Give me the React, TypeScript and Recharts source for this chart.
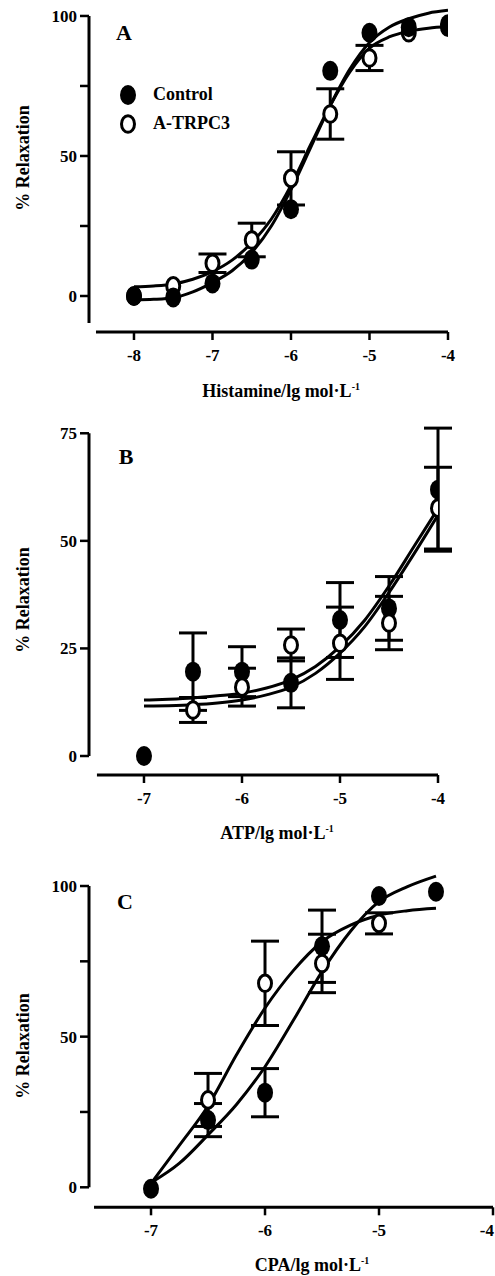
import React from 'react'
import { ComposedChart, Line, Scatter, XAxis, YAxis, ErrorBar, ReferenceLine, Legend } from 'recharts'

const serif = '"Liberation Serif", "Times New Roman", Times, serif'

const controlName = 'Control'
const trpcName = 'A-TRPC3'

// A: histamine
const histX = [-8, -7.5, -7, -6.5, -6, -5.5, -5, -4.5, -4]
const histControl = [0, -0.5, 4.5, 13, 31, 80.4, 94, 96, 97]
const histControlErr = [0, 0, 0, 0, 0, 0, 0, 0, 0]
const histTrpc = [0, 3.6, 11.7, 20, 42, 65, 85, 94, 96]
const histTrpcErr = [0, 0, 3.3, 6, 9.5, 9, 4.5, 0, 0]
const histFitX = [-8, -7.75, -7.5, -7.25, -7, -6.75, -6.5, -6.25, -6, -5.75, -5.5, -5.25, -5, -4.75, -4.5, -4.25, -4]
const histControlFit = [-1.4, -1.2, -0.6, 1.5, 4.8, 9, 15.5, 25, 38, 53, 68, 81, 90.5, 96, 99, 101, 102]
const histTrpcFit = [3.3, 3.6, 4.3, 6, 8.7, 12.8, 19, 27.5, 39.5, 54, 68, 80, 88.5, 92.5, 94.5, 95.6, 96.2]

// B: ATP
const atpControlX = [-7, -6.5, -6, -5.5, -5, -4.5, -4]
const atpControl = [0, 19.6, 19.6, 17, 31.6, 34.3, 61.9]
const atpControlErr = [0, 9, 5.8, 5.8, 8.7, 7.4, 14.3]
const atpTrpcX = [-6.5, -6, -5.5, -5, -4.5, -4]
const atpTrpc = [10.7, 16, 25.8, 26.2, 30.9, 57.6]
const atpTrpcErr = [2.9, 4.4, 3.7, 8.4, 6.2, 9.5]
const atpFitX = [-7, -6.75, -6.5, -6.25, -6, -5.75, -5.5, -5.25, -5, -4.75, -4.5, -4.25, -4]
const atpControlFit = [13, 13.2, 13.5, 14, 14.6, 15.8, 17.7, 20.8, 25.4, 31.5, 39.5, 48.5, 57.5]
const atpTrpcFit = [11.6, 11.7, 11.9, 12.3, 13, 14.2, 16, 19.2, 23.9, 30, 38, 46.8, 56]

// C: CPA
const cpaControlX = [-7, -6.5, -6, -5.5, -5, -4.5]
const cpaControl = [-0.5, 22.3, 31.4, 80, 96.7, 98.1]
const cpaControlErr = [0, 5.5, 8, 12, 0, 0]
const cpaTrpcX = [-6.5, -6, -5.5, -5]
const cpaTrpc = [29, 67.7, 74.3, 87.6]
const cpaTrpcErr = [8.8, 14, 9.7, 3.5]
const cpaFitX = [-7, -6.75, -6.5, -6.25, -6, -5.75, -5.5, -5.25, -5, -4.75, -4.5]
const cpaControlFit = [1.5, 8, 17.4, 27.5, 40, 55.5, 71.6, 85, 94.8, 99.8, 103.3]
const cpaTrpcFit = [1.3, 14, 27, 44, 59.5, 72, 81.5, 87, 90.3, 91.8, 92.6]

type Pt = { x: number; y: number; err: number }
const pts = (xs: number[], ys: number[], errs?: number[]): Pt[] =>
  xs.map((x, i) => ({ x, y: ys[i], err: errs ? errs[i] : 0 }))

const FilledDot = (p: any) => <ellipse cx={p.cx} cy={p.cy} rx={8} ry={10} fill="#000" />
const OpenDot = (p: any) => (
  <ellipse cx={p.cx} cy={p.cy} rx={6.5} ry={8.3} fill="#fff" stroke="#000" strokeWidth={3} />
)

const tickStyle = { fill: '#000', fontSize: 17, fontWeight: 'bold', fontFamily: serif }

// x tick label; the last one at the page edge is right-aligned so it stays on the page
const XTick = (props: any) => {
  const atEdge = props.x > 485
  return (
    <text
      x={atEdge ? Math.min(props.x + 2, 494) : props.x}
      y={props.y}
      dy="0.71em"
      textAnchor={atEdge ? 'end' : 'middle'}
      {...tickStyle}
    >
      {props.payload.value}
    </text>
  )
}

const LegendBox = (props: any) => {
  const items = (props.payload || [])
    .filter((p: any) => p.type !== 'none')
    .sort((a: any, b: any) => (a.value === controlName ? -1 : b.value === controlName ? 1 : 0))
  return (
    <div style={{ fontFamily: serif, fontWeight: 'bold', fontSize: 18 }}>
      {items.map((it: any) => (
        <div key={it.value} style={{ display: 'flex', alignItems: 'center', height: 29 }}>
          <svg width={20} height={24}>
            {it.value === controlName ? (
              <ellipse cx={10} cy={12} rx={8} ry={10} fill="#000" />
            ) : (
              <ellipse cx={10} cy={12} rx={6.5} ry={8.3} fill="#fff" stroke="#000" strokeWidth={3} />
            )}
          </svg>
          <span style={{ marginLeft: 15 }}>{it.value}</span>
        </div>
      ))}
    </div>
  )
}

type PanelProps = {
  top: number
  height: number
  margin: { top: number; right: number; bottom: number; left: number }
  xDomain: [number, number]
  yDomain: [number, number]
  xTicks: number[]
  yTicks: number[]
  yLabels: number[]
  xAxisStart: number
  yAxisSpan: [number, number]
  control: Pt[]
  trpc: Pt[]
  controlFit: Pt[]
  trpcFit: Pt[]
  trpcOnTop: boolean
  legend?: boolean
}

const Panel = (p: PanelProps) => {
  const controlSeries = (
    <Scatter key="c" name={controlName} data={p.control} dataKey="y" shape={FilledDot} isAnimationActive={false}>
      <ErrorBar dataKey="err" direction="y" width={14} strokeWidth={3} stroke="#000" />
    </Scatter>
  )
  const trpcSeries = (
    <Scatter key="t" name={trpcName} data={p.trpc} dataKey="y" shape={OpenDot} isAnimationActive={false}>
      <ErrorBar dataKey="err" direction="y" width={14} strokeWidth={3} stroke="#000" />
    </Scatter>
  )
  return (
    <div style={{ position: 'absolute', left: 0, top: p.top }}>
      <ComposedChart width={495} height={p.height} margin={p.margin}>
        <XAxis
          type="number"
          dataKey="x"
          domain={p.xDomain}
          ticks={p.xTicks}
          interval={0}
          allowDataOverflow
          axisLine={false}
          tickLine={{ stroke: '#000', strokeWidth: 2.5 }}
          tickSize={8}
          tickMargin={9}
          tick={XTick}
          height={30}
        />
        <YAxis
          type="number"
          dataKey="y"
          domain={p.yDomain}
          ticks={p.yTicks}
          interval={0}
          allowDataOverflow
          axisLine={false}
          tickLine={{ stroke: '#000', strokeWidth: 2.5 }}
          tickSize={9}
          tickMargin={3}
          tick={tickStyle}
          tickFormatter={(v: number) => (p.yLabels.includes(v) ? String(v) : '')}
          width={30}
        />
        <ReferenceLine
          segment={[{ x: p.xDomain[0], y: p.yAxisSpan[0] }, { x: p.xDomain[0], y: p.yAxisSpan[1] }]}
          stroke="#000"
          strokeWidth={3}
          ifOverflow="visible"
        />
        <ReferenceLine
          segment={[{ x: p.xAxisStart, y: p.yDomain[0] }, { x: p.xDomain[1], y: p.yDomain[0] }]}
          stroke="#000"
          strokeWidth={3}
          ifOverflow="visible"
        />
        <Line data={p.controlFit} dataKey="y" type="monotone" stroke="#000" strokeWidth={3} dot={false} activeDot={false} legendType="none" isAnimationActive={false} />
        <Line data={p.trpcFit} dataKey="y" type="monotone" stroke="#000" strokeWidth={3} dot={false} activeDot={false} legendType="none" isAnimationActive={false} />
        {p.trpcOnTop ? [controlSeries, trpcSeries] : [trpcSeries, controlSeries]}
        {p.legend && (
          <Legend
            layout="vertical"
            align="center"
            verticalAlign="middle"
            content={LegendBox}
            wrapperStyle={{ left: 118, top: 80, right: 'auto', bottom: 'auto', width: 'auto' }}
          />
        )}
      </ComposedChart>
    </div>
  )
}

const Title = ({ x, y, children, rotate }: { x: number; y: number; children: React.ReactNode; rotate?: boolean }) => (
  <div
    style={{
      position: 'absolute',
      left: x,
      top: y,
      transform: `translate(-50%, -50%)${rotate ? ' rotate(-90deg)' : ''}`,
      whiteSpace: 'nowrap',
      fontFamily: serif,
      fontWeight: 'bold',
      fontSize: 18,
      lineHeight: 1,
    }}
  >
    {children}
  </div>
)

const Letter = ({ x, y, t }: { x: number; y: number; t: string }) => (
  <div
    style={{
      position: 'absolute',
      left: x,
      top: y,
      transform: 'translate(-50%, -50%)',
      fontFamily: serif,
      fontWeight: 'bold',
      fontSize: 22,
      lineHeight: 1,
    }}
  >
    {t}
  </div>
)

const unit = (
  <>
    lg mol·L<span style={{ fontSize: '0.55em', position: 'relative', top: '-0.75em' }}>-1</span>
  </>
)

export default function App() {
  return (
    <div style={{ position: 'absolute', left: 0, top: 0, width: 495, height: 1276, overflow: 'hidden', background: '#fff' }}>
      <Panel
        top={0}
        height={420}
        margin={{ top: 0, right: 47, bottom: 58, left: 59 }}
        xDomain={[-8.573, -4]}
        yDomain={[-12.857, 105.7]}
        xTicks={[-8, -7, -6, -5, -4]}
        yTicks={[0, 25, 50, 75, 100]}
        yLabels={[0, 50, 100]}
        xAxisStart={-8.484}
        yAxisSpan={[-9.6, 100]}
        control={pts(histX, histControl, histControlErr)}
        trpc={pts(histX, histTrpc, histTrpcErr)}
        controlFit={pts(histFitX, histControlFit)}
        trpcFit={pts(histFitX, histTrpcFit)}
        trpcOnTop={false}
        legend
      />
      <Panel
        top={400}
        height={420}
        margin={{ top: 10, right: 57, bottom: 15, left: 59 }}
        xDomain={[-7.561, -4]}
        yDomain={[-4.415, 80.41]}
        xTicks={[-7, -6, -5, -4]}
        yTicks={[0, 25, 50, 75]}
        yLabels={[0, 25, 50, 75]}
        xAxisStart={-7.48}
        yAxisSpan={[0, 75]}
        control={pts(atpControlX, atpControl, atpControlErr)}
        trpc={pts(atpTrpcX, atpTrpc, atpTrpcErr)}
        controlFit={pts(atpFitX, atpControlFit)}
        trpcFit={pts(atpFitX, atpTrpcFit)}
        trpcOnTop
      />
      <Panel
        top={820}
        height={456}
        margin={{ top: 46, right: 2, bottom: 38.7, left: 59 }}
        xDomain={[-7.544, -4]}
        yDomain={[-6.64, 106.64]}
        xTicks={[-7, -6, -5, -4]}
        yTicks={[0, 25, 50, 75, 100]}
        yLabels={[0, 50, 100]}
        xAxisStart={-7.5}
        yAxisSpan={[0, 100]}
        control={pts(cpaControlX, cpaControl, cpaControlErr)}
        trpc={pts(cpaTrpcX, cpaTrpc, cpaTrpcErr)}
        controlFit={pts(cpaFitX, cpaControlFit)}
        trpcFit={pts(cpaFitX, cpaTrpcFit)}
        trpcOnTop
      />

      <Letter x={124} y={33} t="A" />
      <Letter x={126} y={457} t="B" />
      <Letter x={125} y={902} t="C" />

      <Title x={23} y={158} rotate>% Relaxation</Title>
      <Title x={23} y={600} rotate>% Relaxation</Title>
      <Title x={23} y={1046} rotate>% Relaxation</Title>

      <Title x={281} y={391}>Histamine/{unit}</Title>
      <Title x={277} y={833}>ATP/{unit}</Title>
      <Title x={312} y={1265}>CPA/{unit}</Title>
    </div>
  )
}
